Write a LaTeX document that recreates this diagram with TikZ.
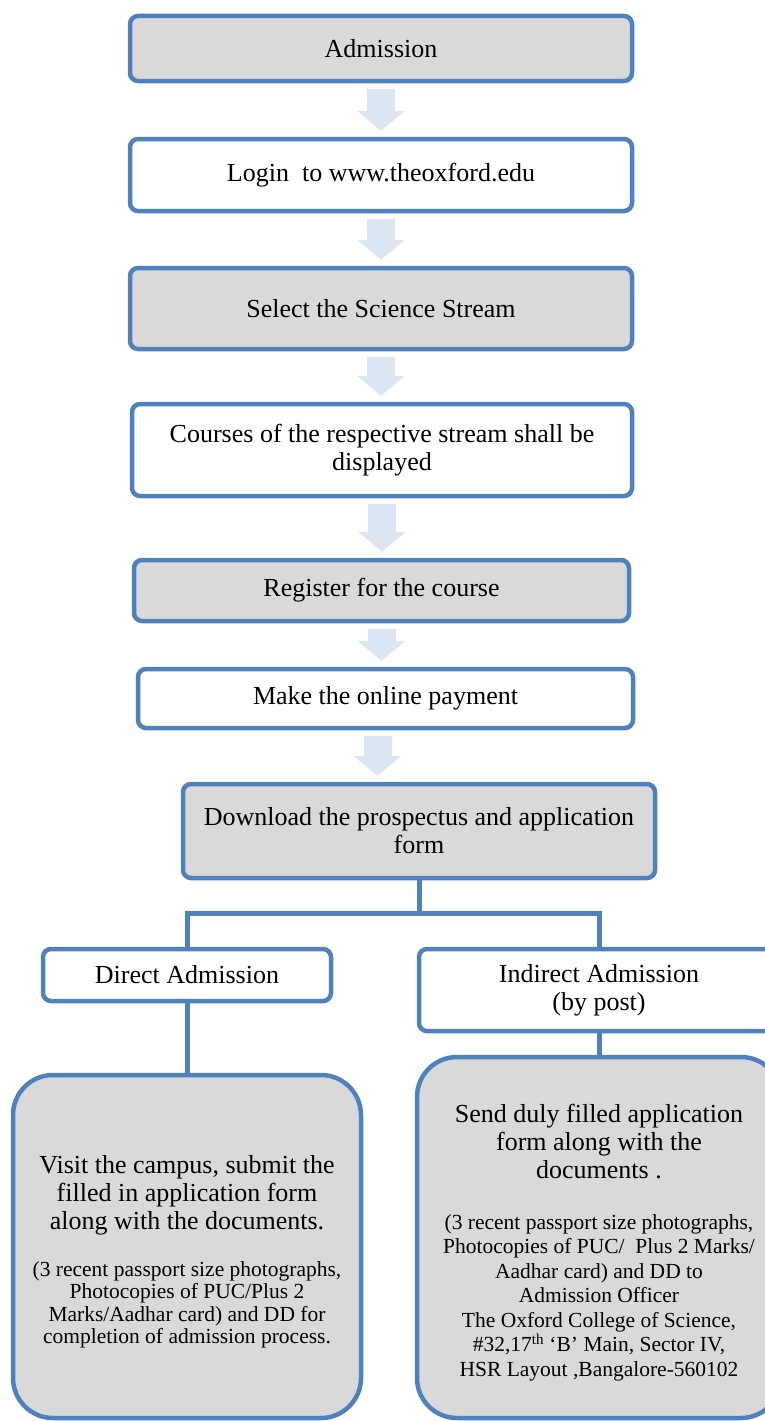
\documentclass[tikz,border=0pt]{standalone}
\usepackage{fontspec}
\setmainfont{Liberation Serif}
\usetikzlibrary{arrows.meta}
\definecolor{boxblue}{HTML}{4F81BD}
\definecolor{boxgrey}{HTML}{D9D9D9}
\definecolor{arrowblue}{HTML}{DCE6F2}
\begin{document}
\begin{tikzpicture}[x=1pt,y=-1pt,
  box/.style={draw=boxblue, line width=4.5pt, rounded corners=8pt, fill=white,
    align=center, inner sep=0pt, font=\fontsize{26}{28}\selectfont},
  greybox/.style={box, fill=boxgrey},
  bigbox/.style={greybox, rounded corners=40pt, align=flush center},
  link/.style={draw=boxblue, line width=5pt},
  blockarrow/.style={arrowblue, line width=28pt,
    -{Triangle[width=48pt,length=20pt,line width=0pt]},
    shorten <=6pt, shorten >=6pt}]
\useasboundingbox (0,0) rectangle (765,1421);
\clip (0,0) rectangle (765,1421);
% Stappen
\node[greybox, minimum width=502pt, minimum height=65pt] (admission) at (381,48.5) {Admission};
\node[box, minimum width=502pt, minimum height=72pt] (login) at (381,175) {Login\ \ to www.theoxford.edu};
\node[greybox, minimum width=502pt, minimum height=81pt] (stream) at (381,308.5) {Select the Science Stream};
\node[box, minimum width=500pt, minimum height=92pt] (courses) at (382,450) {Courses of the respective stream shall be\\displayed};
\node[greybox, minimum width=495pt, minimum height=61pt] (register) at (381.5,590.5) {Register for the course};
\node[box, minimum width=495pt, minimum height=59pt] (payment) at (385.5,698.5) {Make the online payment};
\node[greybox, minimum width=472pt, minimum height=94pt] (download) at (419,831) {Download the prospectus and application\\form};
% Pijlen
\draw[blockarrow] (admission.south) -- (admission.south |- login.north);
\draw[blockarrow] (login.south) -- (login.south |- stream.north);
\draw[blockarrow] (stream.south) -- (stream.south |- courses.north);
\draw[blockarrow] (courses.south) -- (courses.south |- register.north);
\draw[blockarrow] (register.south) -- (register.south |- payment.north);
\draw[blockarrow] ([xshift=-8pt]payment.south) -- ([xshift=-8pt]payment.south |- download.north);
% Twee wegen
\node[box, minimum width=288pt, minimum height=52pt] (direct) at (187,975) {Direct Admission};
\node[box, minimum width=360pt, minimum height=82pt] (indirect) at (599,990) {Indirect Admission\\(by post)};
\node[bigbox, minimum width=348pt, minimum height=343pt, text width=340pt] (visit) at (187,1246.5)
  {\rule{0pt}{29pt}Visit the campus, submit the\\filled in application form\\along with the documents.\par
   \vspace{24pt}\fontsize{21.5}{22.5}\selectfont
   (3 recent passport size photographs,\\Photocopies of PUC/Plus 2\\Marks/Aadhar card) and DD for\\completion of admission process.\par};
\node[bigbox, minimum width=364pt, minimum height=361pt, text width=350pt] (send) at (599,1237.5)
  {\rule{0pt}{29pt}Send duly filled application\\form along with the\\documents .\par
   \vspace{26pt}\fontsize{21.5}{24.5}\selectfont
   (3 recent passport size photographs,\\Photocopies of PUC/\ \ Plus 2 Marks/\\Aadhar card) and DD to\\Admission Officer\\
   The Oxford College of Science,\\\#32,17\textsuperscript{th} ‘B’ Main, Sector IV,\\HSR Layout ,Bangalore-560102\par};
% Lijnen
\draw[link] (download.south) -- ++(0,33) -| (direct.north);
\draw[link] (download.south) -- ++(0,33) -| (indirect.north);
\draw[link] (direct.south) -- (visit.north);
\draw[link] (indirect.south) -- (send.north);
\end{tikzpicture}
\end{document}
